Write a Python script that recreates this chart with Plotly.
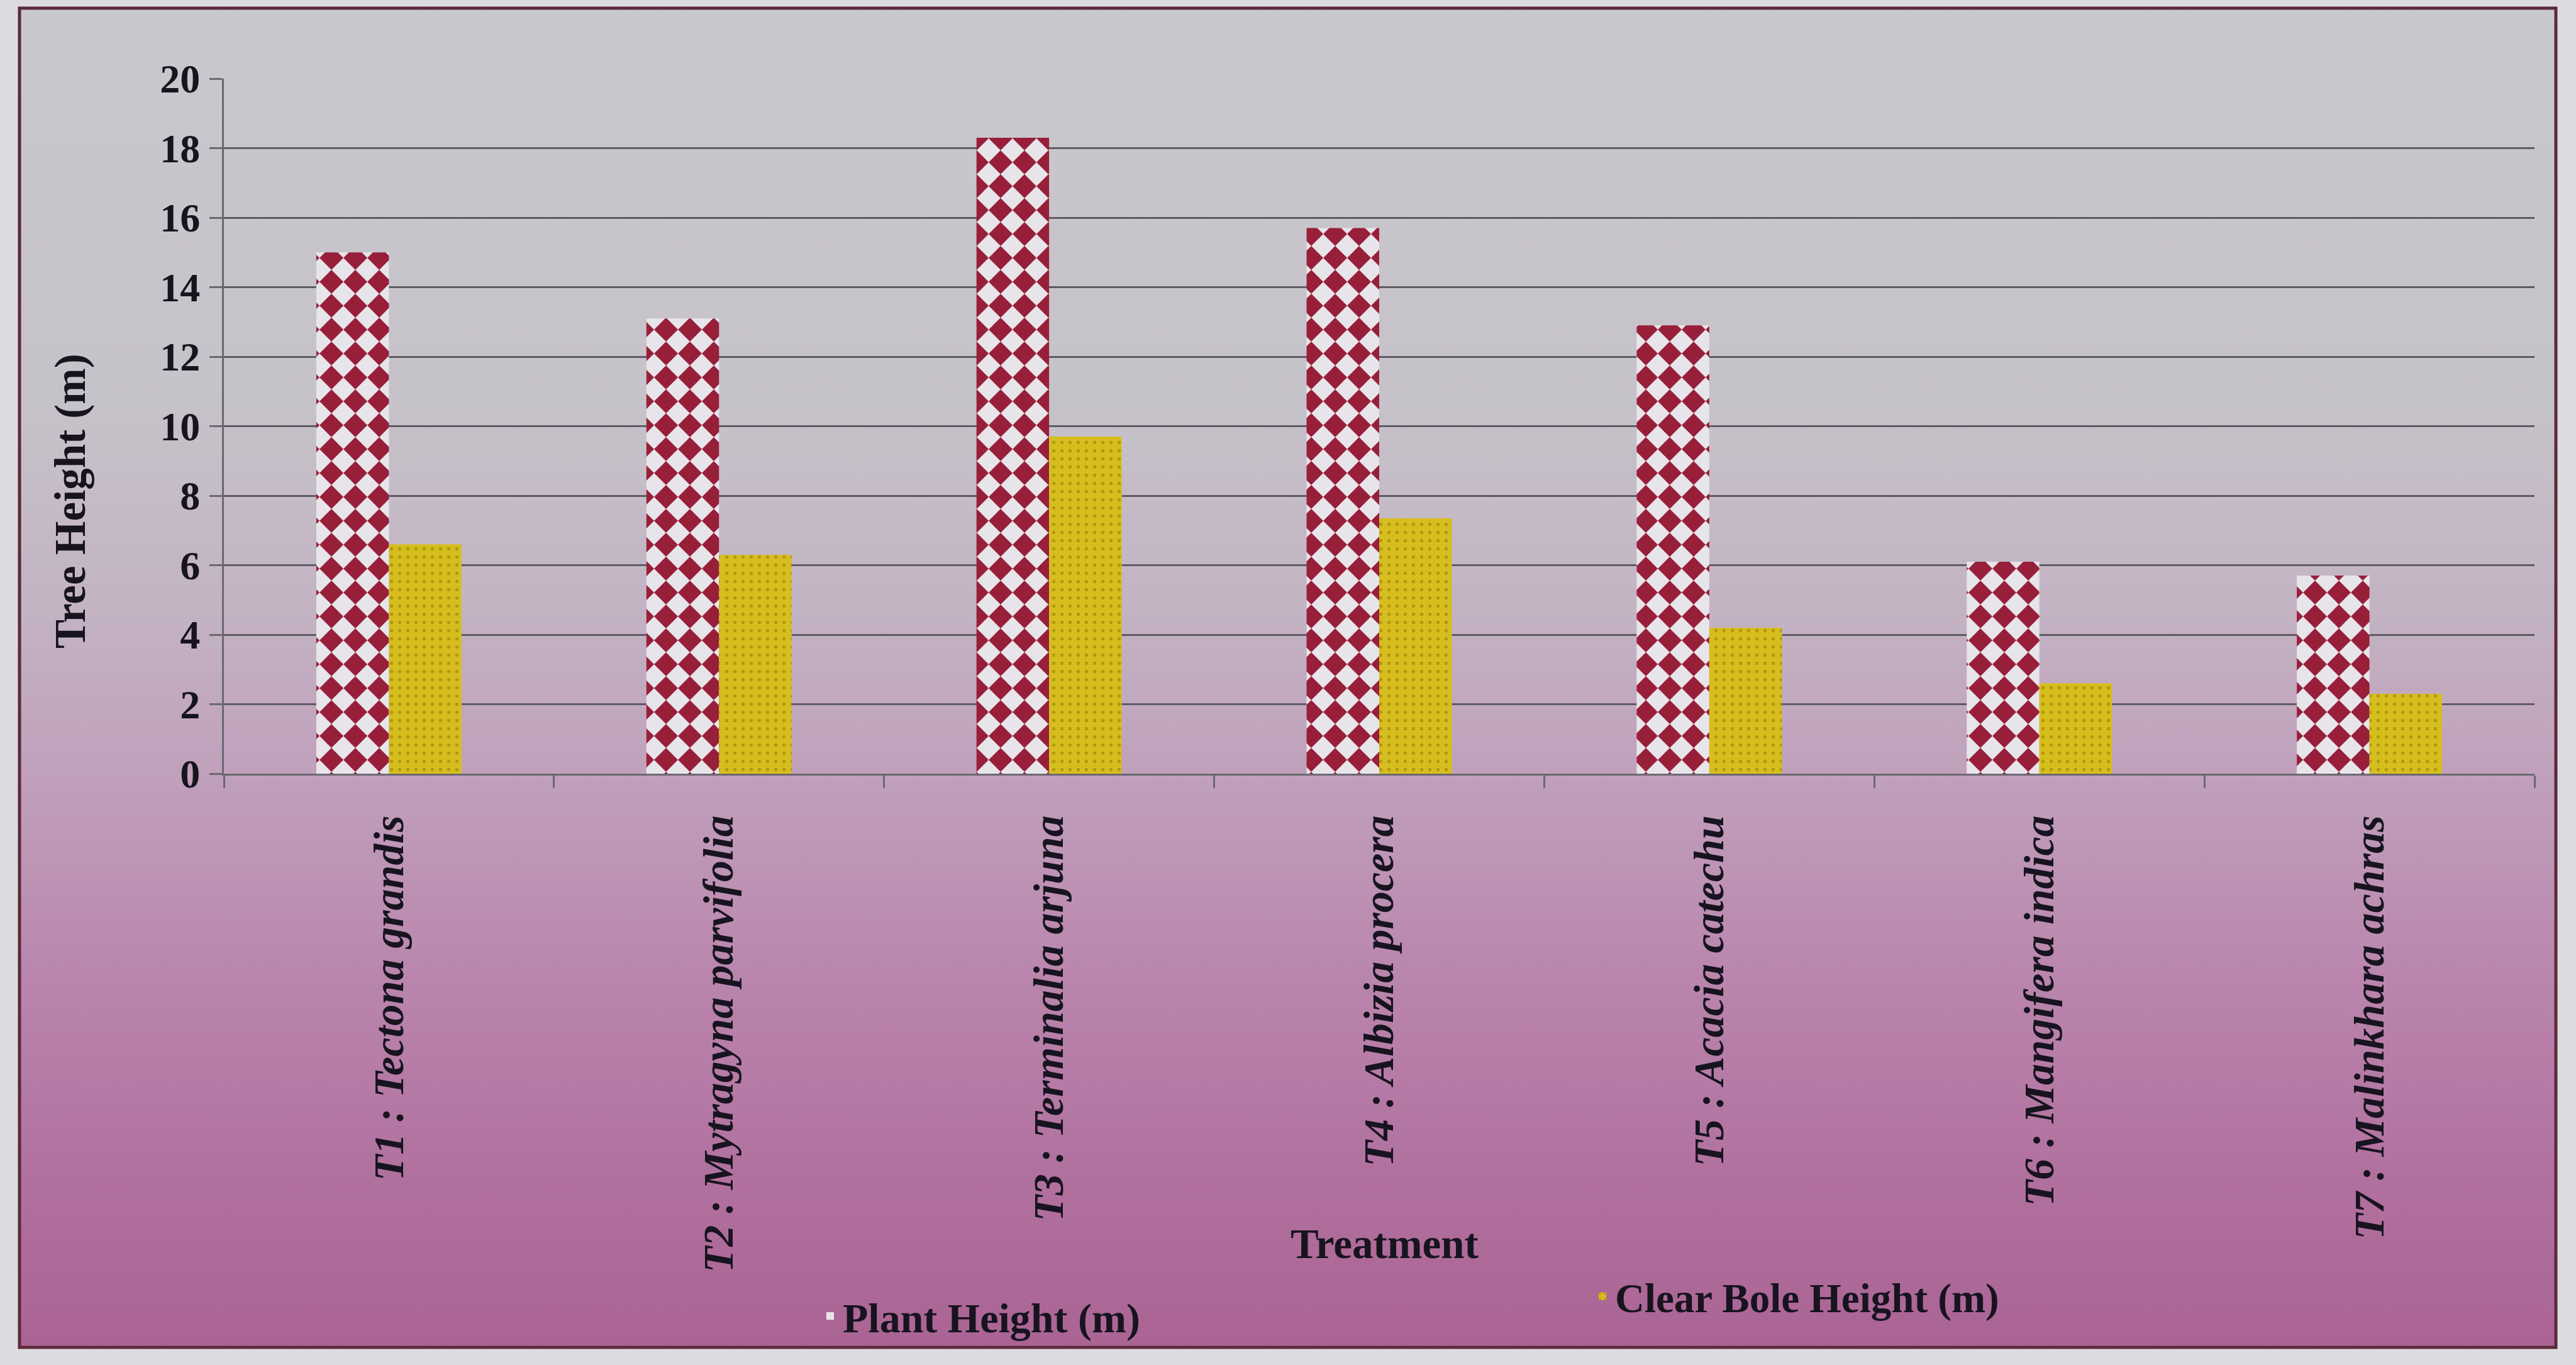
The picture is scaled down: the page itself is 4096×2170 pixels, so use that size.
import base64
import plotly.graph_objects as go

# ---- data ----
treatments = [
    "T1 : Tectona grandis",
    "T2 : Mytragyna parvifolia",
    "T3 : Terminalia arjuna",
    "T4 : Albizia procera",
    "T5 : Acacia catechu",
    "T6 : Mangifera indica",
    "T7 : Malinkhara achras",
]
plant_height = [15.0, 13.1, 18.3, 15.7, 12.9, 6.1, 5.7]
clear_bole_height = [6.6, 6.3, 9.7, 7.35, 4.2, 2.6, 2.3]
y_ticks = [0, 2, 4, 6, 8, 10, 12, 14, 16, 18, 20]

# ---- canvas geometry (pixels) ----
W, H = 4096, 2170
PL, PR, PT, PB = 356, 4030, 125, 1230  # plot area edges


def px(x):
    return (x - PL) / (PR - PL)


def py(y):
    return (PB - y) / (PB - PT)


FONT = "Liberation Serif, Times New Roman, serif"
TXT = "#17141f"
RED = "#981f3a"
LIGHT = "#e8e5ea"
YELLOW = "#d6be1e"

# harlequin (diamond checker) fill for plant height bars:
# crimson diamonds on a light ground, corners touching
DIA = 38
h = DIA / 2
pattern_plant = dict(shape="x", fgcolor=RED, bgcolor=LIGHT, size=DIA, solidity=0.5,
                     fillmode="overlay", fgopacity=1)
try:
    go.bar.marker.Pattern(path="M0,0Z")
    pattern_plant = dict(
        path=f"M0,{h}L{h},0L{DIA},{h}L{h},{DIA}Z",
        fgcolor=RED, bgcolor=LIGHT, size=DIA, solidity=1, fillmode="overlay",
        fgopacity=1)
except Exception:
    pass

fig = go.Figure()
fig.add_trace(go.Bar(
    name="Plant Height (m)", x=treatments, y=plant_height,
    marker=dict(color=LIGHT, line=dict(width=0), pattern=pattern_plant),
    legend="legend",
))
fig.add_trace(go.Bar(
    name="Clear Bole Height (m)", x=treatments, y=clear_bole_height,
    marker=dict(color=YELLOW, line=dict(width=0),
                pattern=dict(shape=".", fgcolor="#a88c0a", bgcolor=YELLOW,
                             size=13, solidity=0.14, fillmode="overlay",
                             fgopacity=0.75)),
    legend="legend2",
))

# ---- background panel with vertical gradient ----
svg = (
    '<svg xmlns="http://www.w3.org/2000/svg" width="100" height="100" '
    'viewBox="0 0 100 100" preserveAspectRatio="none">'
    '<defs><linearGradient id="g" x1="0" y1="0" x2="0" y2="1">'
    '<stop offset="0" stop-color="#c9c8cd"/>'
    '<stop offset="0.30" stop-color="#c6c2c9"/>'
    '<stop offset="0.45" stop-color="#c3b3c3"/>'
    '<stop offset="0.58" stop-color="#c09fbb"/>'
    '<stop offset="0.72" stop-color="#ba86ad"/>'
    '<stop offset="0.87" stop-color="#b1719f"/>'
    '<stop offset="1" stop-color="#aa6494"/>'
    '</linearGradient></defs>'
    '<rect x="0" y="0" width="100" height="100" fill="url(#g)"/></svg>'
)
src = "data:image/svg+xml;base64," + base64.b64encode(svg.encode()).decode()

FX0, FY0, FX1, FY1 = 31, 13, 4064, 2142
fig.add_layout_image(dict(
    source=src, xref="paper", yref="paper",
    x=px(FX0), y=py(FY0), sizex=px(FX1) - px(FX0), sizey=py(FY0) - py(FY1),
    xanchor="left", yanchor="top", sizing="stretch", layer="below",
))
fig.add_shape(type="rect", xref="paper", yref="paper",
              x0=px(FX0), x1=px(FX1), y0=py(FY0), y1=py(FY1),
              line=dict(color="#5b2a3a", width=5), layer="above")

axis_col = "#6b6871"
grid_col = "#5e5b64"

fig.update_layout(
    width=W, height=H,
    margin=dict(l=PL, r=W - PR, t=PT, b=H - PB, autoexpand=False),
    paper_bgcolor="#dcdbe0",
    plot_bgcolor="rgba(0,0,0,0)",
    barmode="group", bargap=0.56, bargroupgap=0.0,
    font=dict(family=FONT, color=TXT, size=64),
    showlegend=True,
    legend=dict(
        x=px(1300), y=py(2092), xanchor="left", yanchor="middle",
        orientation="h", bgcolor="rgba(0,0,0,0)", itemwidth=30,
        font=dict(family=FONT, size=66, color=TXT, weight="bold"),
    ),
    legend2=dict(
        x=px(2528), y=py(2061), xanchor="left", yanchor="middle",
        orientation="h", bgcolor="rgba(0,0,0,0)", itemwidth=30,
        font=dict(family=FONT, size=65, color=TXT, weight="bold"),
    ),
    xaxis=dict(
        showline=True, linecolor=axis_col, linewidth=3,
        ticks="outside", tickson="boundaries", ticklen=20, tickwidth=3,
        tickcolor=axis_col, tickangle=-90, ticklabelstandoff=36,
        tickfont=dict(family=FONT, size=68, color=TXT, weight="bold", style="italic"),
        showgrid=False,
    ),
    yaxis=dict(
        range=[0, 20], tickvals=y_ticks, showline=True, linecolor=axis_col,
        linewidth=3, ticks="outside", ticklen=20, tickwidth=3, tickcolor=axis_col,
        showgrid=True, gridcolor=grid_col, gridwidth=3, zeroline=False,
        ticklabelstandoff=2,
        tickfont=dict(family=FONT, size=64, color=TXT, weight="bold"),
    ),
    annotations=[
        dict(text="Tree Height (m)", textangle=-90, xref="paper", yref="paper",
             x=px(112), y=py(797), xanchor="center", yanchor="middle",
             showarrow=False,
             font=dict(family=FONT, size=69, color=TXT, weight="bold")),
        dict(text="Treatment", xref="paper", yref="paper",
             x=px(2202), y=py(1977), xanchor="center", yanchor="middle",
             showarrow=False,
             font=dict(family=FONT, size=67, color=TXT, weight="bold")),
    ],
)

fig.write_html("out.html")
